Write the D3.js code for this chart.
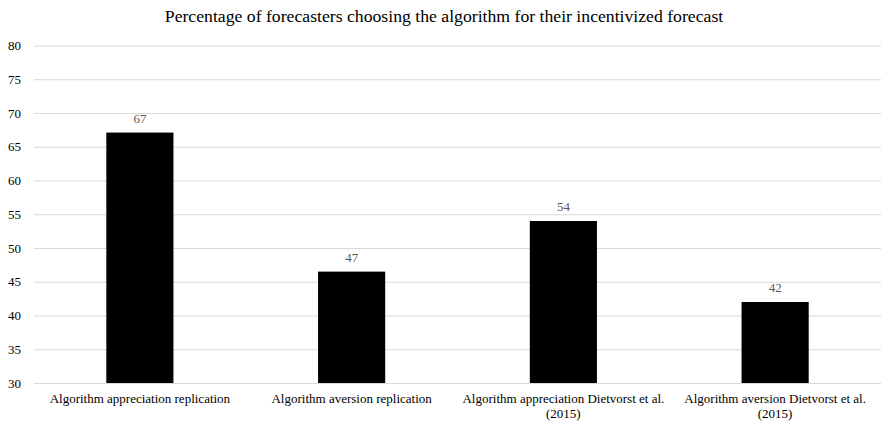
<!DOCTYPE html>
<html>
<head>
<meta charset="utf-8">
<script src="https://cdn.jsdelivr.net/npm/d3@7"></script>
<style>
body { margin: 0; background: #fff; }
text { font-family: "Liberation Serif", "Times New Roman", serif; }
</style>
</head>
<body>
<div id="chart"></div>
<script>
var categories = [
    "Algorithm appreciation replication",
    "Algorithm aversion replication",
    "Algorithm appreciation Dietvorst et al. (2015)",
    "Algorithm aversion Dietvorst et al. (2015)"
];
var values = [67.1, 46.5, 54.0, 42.0];
var yTicks = [30, 35, 40, 45, 50, 55, 60, 65, 70, 75, 80];
var title = "Percentage of forecasters choosing the algorithm for their incentivized forecast";

var W = 888, H = 424;
var margin = {top: 45.5, right: 7, bottom: 41, left: 34};

var svg = d3.select("#chart").append("svg").attr("width", W).attr("height", H);

var x = d3.scaleBand()
        .domain(categories)
        .range([margin.left, W - margin.right])
        .paddingInner(0.683)
        .paddingOuter(0.683 / 2);

var y = d3.scaleLinear()
        .domain([30, 80])
        .range([H - margin.bottom, margin.top]);

// title
svg.append("text")
        .attr("x", 444)
        .attr("y", 22)
        .attr("text-anchor", "middle")
        .attr("font-size", "17.7px")
        .attr("fill", "#000")
        .text(title);

// gridlines + tick labels
var yAxis = d3.axisLeft(y).tickValues(yTicks).tickSize(-(W - margin.left - margin.right)).tickPadding(13);
var gy = svg.append("g").attr("transform", "translate(" + margin.left + ",0)").call(yAxis);
gy.select(".domain").remove();
gy.selectAll(".tick line").attr("stroke", "#d9d9d9").attr("stroke-width", 1);
gy.selectAll(".tick text")
        .attr("font-size", "13px")
        .attr("fill", "#000")
        .style("font-family", "'Liberation Serif', serif");

// bars
svg.selectAll(".bar").data(values).enter().append("rect")
        .attr("class", "bar")
        .attr("x", function (d, i) {
            return x(categories[i]);
        })
        .attr("y", function (d) {
            return y(d);
        })
        .attr("width", x.bandwidth())
        .attr("height", function (d) {
            return y(30) - y(d);
        })
        .attr("fill", "#000");

// value labels
svg.selectAll(".val").data(values).enter().append("text")
        .attr("class", "val")
        .attr("x", function (d, i) {
            return x(categories[i]) + x.bandwidth() / 2;
        })
        .attr("y", function (d) {
            return y(d) - 10;
        })
        .attr("text-anchor", "middle")
        .attr("font-size", "13px")
        .attr("fill", "#595959")
        .text(function (d) {
            return d3.format(".0f")(d);
        });

// category labels (break before the year)
svg.selectAll(".cat").data(categories).enter().append("text")
        .attr("class", "cat")
        .attr("text-anchor", "middle")
        .attr("font-size", "13px")
        .attr("fill", "#000")
        .each(function (d) {
            var t = d3.select(this);
            var cx = x(d) + x.bandwidth() / 2;
            var k = d.indexOf(" (");
            var lines = k > -1 ? [d.substring(0, k), d.substring(k + 1)] : [d];
            lines.forEach(function (s, j) {
                t.append("tspan").attr("x", cx).attr("y", y(30) + 20 + j * 14.5).text(s);
            });
        });
</script>
</body>
</html>
